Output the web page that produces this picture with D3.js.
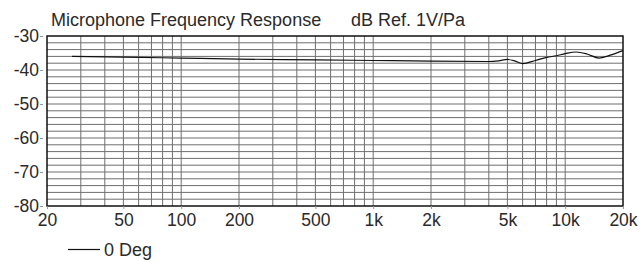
<!DOCTYPE html>
<html>
<head>
<script src="https://d3js.org/d3.v7.min.js"></script>
<style>
  body { margin: 0; background: #fff; }
  text { font-family: "Liberation Sans", Arial, sans-serif; fill: #2a2a2a; }
</style>
</head>
<body>
<div id="chart"></div>
<script>
  // response curve (Hz, dB ref 1V/Pa)
  const freqs = [27, 50, 100, 200, 500, 1000, 2000, 4000, 4500, 5000, 5500, 6000, 7000, 8000, 9000, 10000, 11400, 13000, 15000, 17000, 20000];
  const levels = [-36.0, -36.2, -36.5, -36.8, -37.0, -37.2, -37.4, -37.5, -37.3, -36.9, -37.4, -38.1, -37.2, -36.3, -35.8, -35.2, -34.7, -35.3, -36.5, -35.7, -34.3];

  const xTicks = [20, 50, 100, 200, 500, 1000, 2000, 5000, 10000, 20000];
  const xTickLabels = ["20", "50", "100", "200", "500", "1k", "2k", "5k", "10k", "20k"];
  const yTicks = [-30, -40, -50, -60, -70, -80];

  const width = 639, height = 262;
  const margin = { top: 36, right: 16, bottom: 56, left: 47 };

  const svg = d3.select("#chart").append("svg")
    .attr("width", width).attr("height", height);

  const x = d3.scaleLog().domain([20, 20000]).range([margin.left, width - margin.right]);
  const y = d3.scaleLinear().domain([-80, -30]).range([height - margin.bottom, margin.top]);

  // grid
  const vLines = [];
  [10, 100, 1000, 10000].forEach(dec => {
    for (let m = 1; m <= 9; m++) {
      const f = dec * m;
      if (f > 20 && f < 20000) vLines.push(f);
    }
  });
  const hLines = d3.range(-78, -30, 2);

  const grid = svg.append("g").attr("stroke", "#6e6e6e").attr("stroke-width", 1);
  grid.selectAll(".h").data(hLines).enter().append("line")
    .attr("x1", x(20)).attr("x2", x(20000))
    .attr("y1", d => y(d)).attr("y2", d => y(d));
  grid.selectAll(".v").data(vLines).enter().append("line")
    .attr("x1", d => x(d)).attr("x2", d => x(d))
    .attr("y1", y(-30)).attr("y2", y(-80));

  // frame
  svg.append("rect")
    .attr("x", x(20)).attr("y", y(-30))
    .attr("width", x(20000) - x(20)).attr("height", y(-80) - y(-30))
    .attr("fill", "none").attr("stroke", "#111").attr("stroke-width", 1.5);

  // axes
  const yAxis = d3.axisLeft(y).tickValues(yTicks).tickSize(0).tickPadding(8).tickFormat(d => d);
  const yg = svg.append("g").attr("transform", `translate(${x(20)},0)`).call(yAxis);
  yg.select(".domain").remove();
  yg.selectAll(".tick line").attr("x1", -7).attr("x2", -4).attr("stroke", "#999");
  yg.selectAll("text").style("font-size", "17.5px").attr("fill", "#2a2a2a");

  const xAxis = d3.axisBottom(x).tickValues(xTicks).tickSize(3)
    .tickFormat((d, i) => xTickLabels[i]);
  const xg = svg.append("g").attr("transform", `translate(0,${y(-80)})`).call(xAxis);
  xg.select(".domain").remove();
  xg.selectAll("line").attr("stroke", "#999");
  xg.selectAll("text").style("font-size", "17.5px").attr("y", 8).attr("fill", "#2a2a2a");

  // curve
  const line = d3.line()
    .x((d, i) => x(freqs[i]))
    .y(d => y(d))
    .curve(d3.curveMonotoneX);
  svg.append("path").datum(levels)
    .attr("d", line)
    .attr("fill", "none").attr("stroke", "#111").attr("stroke-width", 1.2);

  // titles
  svg.append("text").attr("x", 51).attr("y", 26).style("font-size", "18px")
    .text("Microphone Frequency Response");
  svg.append("text").attr("x", 351).attr("y", 26).style("font-size", "18px")
    .text("dB Ref. 1V/Pa");

  // legend
  svg.append("line").attr("x1", 68).attr("x2", 100).attr("y1", 249.5).attr("y2", 249.5)
    .attr("stroke", "#111").attr("stroke-width", 1.2);
  svg.append("text").attr("x", 104).attr("y", 256).style("font-size", "18px").text("0 Deg");
</script>
</body>
</html>
